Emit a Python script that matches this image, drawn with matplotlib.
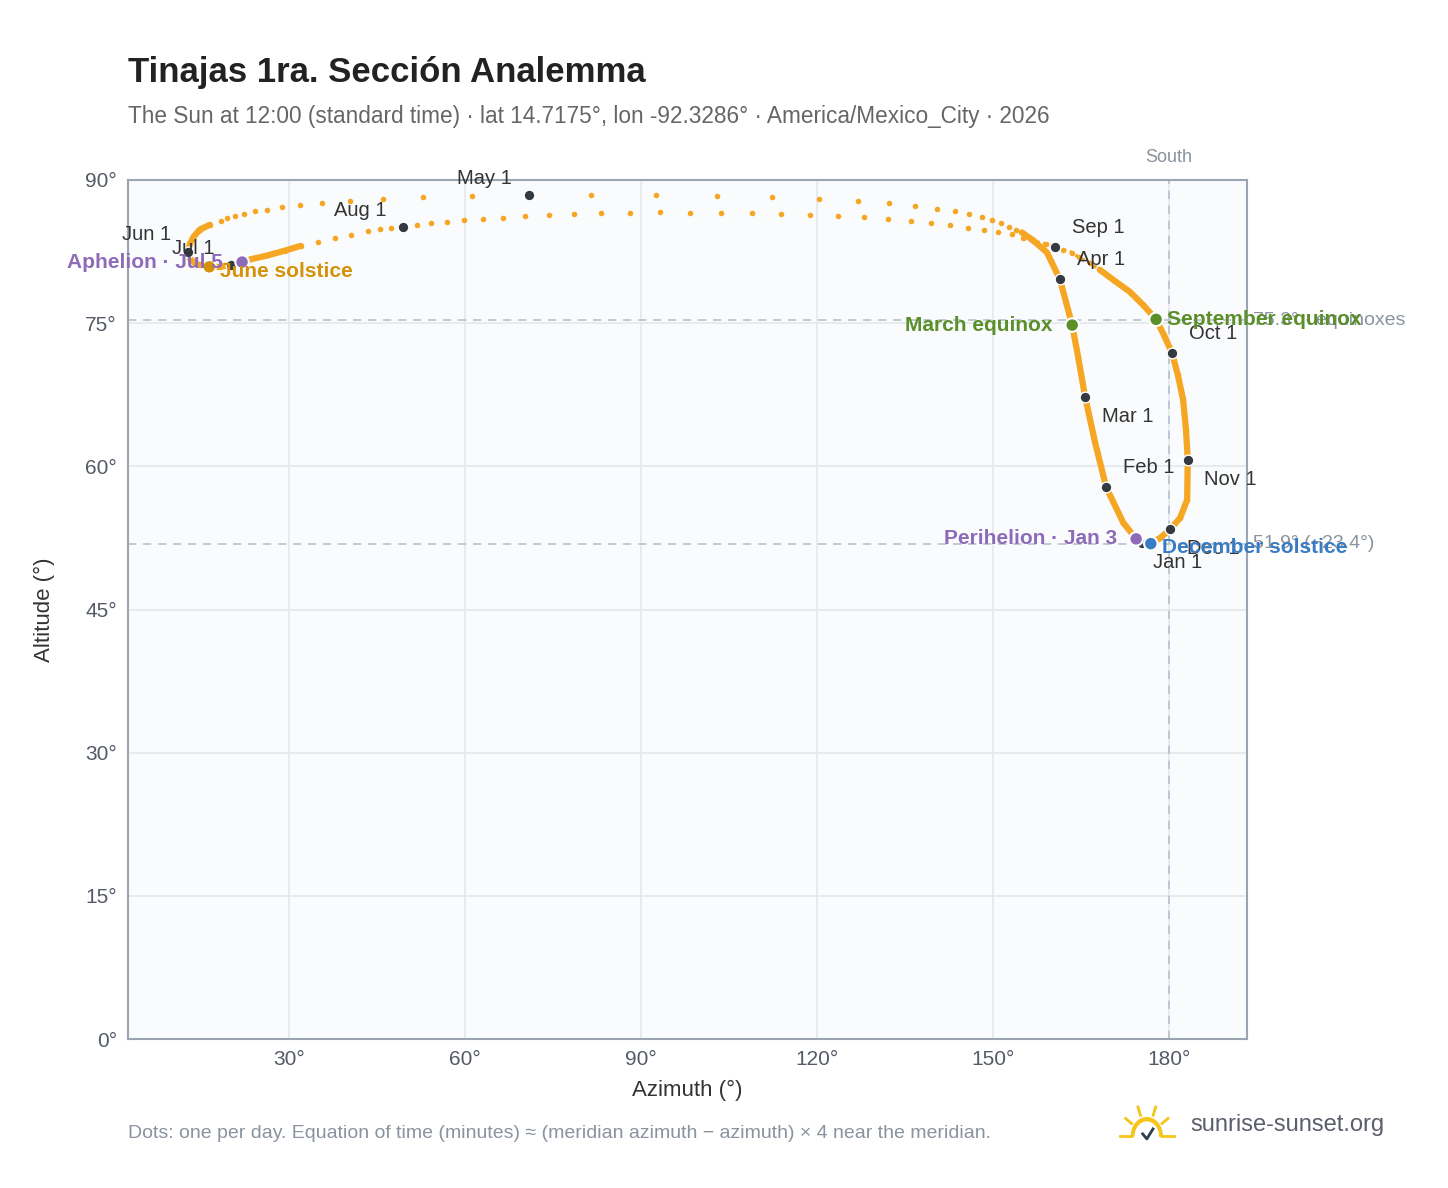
import matplotlib
matplotlib.use("Agg")
import matplotlib.pyplot as plt
from matplotlib.patches import Wedge
import numpy as np

plt.rcParams['font.family'] = ['Liberation Sans', 'DejaVu Sans']

# Analemma path (azimuth, altitude), starting Jan 1
azimuth = [175.4,174.4,172.2,169.3,167.4,165.7,164.5,163.5,161.4,159.2,156.8,154.9,153.9,152.7,151.4,149.8,148.1,
           145.9,143.5,140.4,136.7,132.3,127.0,120.3,112.3,102.9,92.6,81.5,70.9,61.2,52.8,46.0,40.4,35.6,31.9,28.8,
           26.2,24.2,22.3,20.8,19.4,18.4,16.5,14.8,13.8,13.1,12.8,13.1,14.1,16.4,18.2,20.1,22.0,23.5,26.4,29.3,32.0,
           34.9,37.8,40.6,43.5,45.5,47.4,49.4,51.8,54.2,56.9,59.8,63.1,66.5,70.2,74.3,78.6,83.2,88.1,93.2,98.3,103.6,
           108.9,113.9,118.8,123.6,128.0,132.1,136.0,139.4,142.7,145.7,148.5,150.8,153.2,155.1,156.8,159.0,160.6,
           161.9,163.5,164.6,166.5,168.2,170.8,173.3,175.6,177.8,179.1,180.5,181.5,182.4,182.9,183.2,183.1,181.9,
           180.2,178.5,176.9,175.4]
altitude = [52.0,52.4,54.1,57.8,62.5,67.3,71.5,74.8,79.6,82.4,83.7,84.5,84.8,85.1,85.5,85.8,86.1,86.4,86.8,87.0,
            87.3,87.6,87.8,88.0,88.2,88.3,88.4,88.4,88.4,88.3,88.2,88.0,87.8,87.6,87.4,87.2,86.9,86.7,86.4,86.2,86.0,
            85.7,85.3,84.8,84.1,83.3,82.5,81.8,81.2,80.9,80.9,81.1,81.4,81.7,82.1,82.6,83.1,83.5,83.9,84.2,84.7,84.9,
            85.0,85.1,85.3,85.5,85.6,85.8,85.9,86.0,86.2,86.3,86.4,86.5,86.5,86.6,86.5,86.5,86.5,86.4,86.3,86.2,86.1,
            85.9,85.7,85.5,85.3,85.0,84.8,84.6,84.3,83.9,83.6,83.3,83.0,82.7,82.4,81.9,81.3,80.6,79.4,78.3,76.9,75.4,
            73.8,71.9,69.6,67.0,63.8,60.7,56.5,54.6,53.4,52.5,51.9,52.0]

months = ["Jan 1","Feb 1","Mar 1","Apr 1","May 1","Jun 1","Jul 1","Aug 1","Sep 1","Oct 1","Nov 1","Dec 1"]
month_az = [175.4,169.3,165.7,161.4,70.9,12.8,20.1,49.4,160.6,180.5,183.2,180.2]
month_alt = [52.0,57.8,67.3,79.6,88.4,82.5,81.1,85.1,83.0,71.9,60.7,53.4]
month_off = [(8,-14),(12,14),(12,-14),(12,14),(-12,12),(-12,12),(-12,12),(-12,12),(12,14),(12,14),(12,-14),(12,-14)]

events = ["March equinox","September equinox","June solstice","December solstice","Perihelion · Jan 3","Aphelion · Jul 5"]
event_az = [163.5,177.8,16.4,176.9,174.4,22.0]
event_alt = [74.8,75.4,80.9,51.9,52.4,81.4]
event_col = ["#5a8f29","#5a8f29","#d4920a","#3a7cc3","#8e6bb8","#8e6bb8"]
event_side = ["left","right","right","right","left","left"]

eq_alt = 75.3
dec_alt = 51.9

fig = plt.figure(figsize=(14.48, 11.88), dpi=100)
ax = fig.add_axes([0.0884, 0.1254, 0.7728, 0.7231])
ax.set_facecolor("#f9fbfd")
ax.set_xlim(2.56, 193.3)
ax.set_ylim(0, 90)
ax.set_xticks([30,60,90,120,150,180])
ax.set_xticklabels([f"{v}°" for v in [30,60,90,120,150,180]])
ax.set_yticks(range(0,91,15))
ax.set_yticklabels([f"{v}°" for v in range(0,91,15)])
ax.grid(color="#e3e8ee", lw=1.2)
ax.set_axisbelow(True)
for s in ax.spines.values():
    s.set_color("#9aa5b1"); s.set_linewidth(1.5)
ax.tick_params(colors="#555b66", labelsize=15, length=0, pad=8)
ax.set_xlabel("Azimuth (°)", fontsize=16, color="#333", labelpad=8)
ax.set_ylabel("Altitude (°)", fontsize=16, color="#333", labelpad=22)

ax.axhline(eq_alt, color="#b8c2cc", ls=(0,(5,4)), lw=1.2)
ax.axhline(dec_alt, color="#b8c2cc", ls=(0,(5,4)), lw=1.2)
ax.axvline(180, color="#b8c2cc", ls=(0,(5,4)), lw=1.2)
ax.text(180, 91.5, "South", ha="center", va="bottom", fontsize=13, color="#8a939e")
ax.text(194.3, eq_alt, f"{eq_alt}° · equinoxes", ha="left", va="center", fontsize=14, color="#8a939e", clip_on=False)
ax.text(194.3, dec_alt, f"{dec_alt}° (−23.4°)", ha="left", va="center", fontsize=14, color="#8a939e", clip_on=False)

ax.plot(azimuth[:12], altitude[:12], color="#f5a623", lw=4.5, solid_capstyle="round", zorder=3)
ax.plot(azimuth[42:57], altitude[42:57], color="#f5a623", lw=4.5, solid_capstyle="round", zorder=3)
ax.plot(azimuth[99:], altitude[99:], color="#f5a623", lw=4.5, solid_capstyle="round", zorder=3)
ax.plot(azimuth[91:100], altitude[91:100], color="#f5a623", lw=2.5, ls=(0, (1, 1)), zorder=3)
ax.scatter(azimuth, altitude, s=16, color="#f5a623", zorder=3, linewidths=0)

ax.scatter(month_az, month_alt, s=60, color="#343a42", zorder=5, edgecolors="white", linewidths=1)
for m, x, y, (dx, dy) in zip(months, month_az, month_alt, month_off):
    ax.annotate(m, (x, y), xytext=(dx, dy), textcoords="offset points", fontsize=14.5, color="#333",
                ha="left" if dx > 0 else "right", va="center", zorder=6)

ax.scatter(event_az, event_alt, s=95, color=event_col, zorder=6, edgecolors="white", linewidths=1.5)
for e, x, y, c, side in zip(events, event_az, event_alt, event_col, event_side):
    dx = 8 if side == "right" else -14
    ax.annotate(e, (x, y), xytext=(dx, -3 if "solstice" in e else 0), textcoords="offset points", fontsize=15,
                fontweight="bold", color=c, ha="left" if side == "right" else "right", va="center",
                zorder=7, annotation_clip=False)

fig.text(0.0884, 0.939, "Tinajas 1ra. Sección Analemma", fontsize=25, fontweight="bold", color="#222", va="center")
fig.text(0.0884, 0.902, "The Sun at 12:00 (standard time) · lat 14.7175°, lon -92.3286° · America/Mexico_City · 2026",
         fontsize=16.3, color="#666", va="center")
fig.text(0.0884, 0.046, "Dots: one per day. Equation of time (minutes) ≈ (meridian azimuth − azimuth) × 4 near the meridian.",
         fontsize=14, color="#8a939e", va="center")
fig.text(0.822, 0.053, "sunrise-sunset.org", fontsize=17, color="#5a5f6b", va="center")

# logo
lax = fig.add_axes([0.772, 0.035, 0.04, 0.04])
lax.set_xlim(-1.4, 1.4); lax.set_ylim(-0.4, 1.5); lax.axis("off")
lax.add_patch(Wedge((0, 0), 0.75, 0, 180, width=0.12, color="#f5c518"))
for a in [35, 70, 110, 145]:
    r = np.radians(a)
    lax.plot([0.9*np.cos(r), 1.25*np.cos(r)], [0.9*np.sin(r), 1.25*np.sin(r)], color="#f5c518", lw=2)
lax.plot([-1.3, -0.75], [0, 0], color="#f5c518", lw=2)
lax.plot([0.75, 1.3], [0, 0], color="#f5c518", lw=2)
lax.plot([-0.2, 0, 0.3], [0.1, -0.1, 0.3], color="#2c3e50", lw=2)

fig.savefig("out.png", dpi=100, facecolor="white")
